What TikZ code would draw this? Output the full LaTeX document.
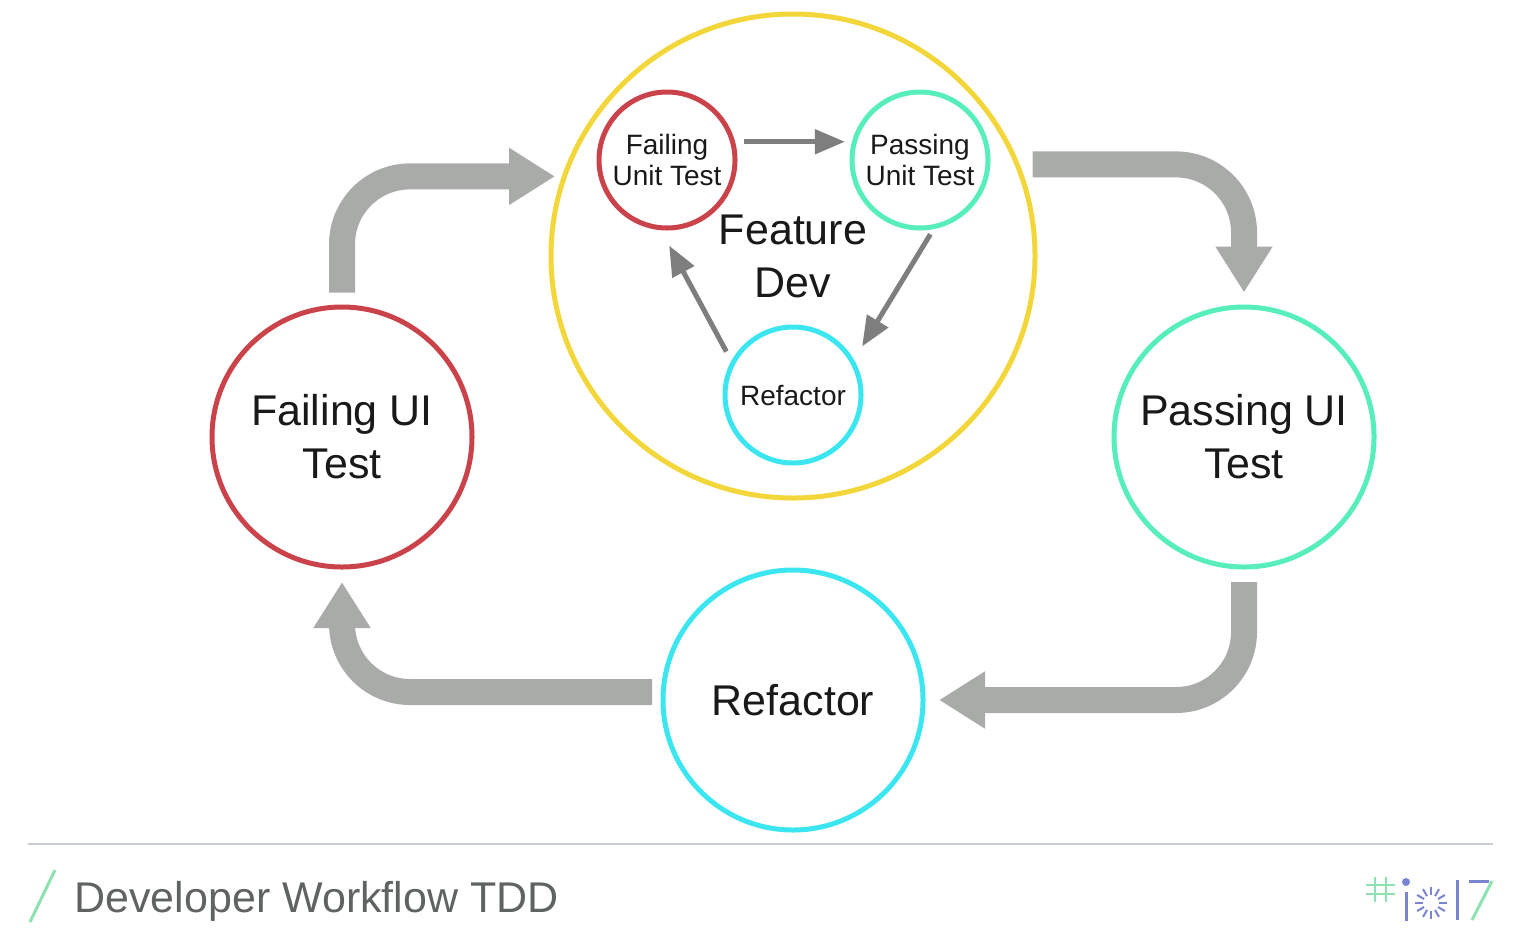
\documentclass[tikz,border=0pt]{standalone}
\usepackage{fontspec}
\setmainfont{Liberation Sans}
\usepackage{tikz}
\usetikzlibrary{arrows.meta,calc}

\definecolor{failred}{RGB}{202,66,74}
\definecolor{passgreen}{RGB}{88,238,188}
\definecolor{refcyan}{RGB}{60,230,240}
\definecolor{devyellow}{RGB}{242,214,58}
\definecolor{flowgray}{RGB}{169,171,169}
\definecolor{stepgray}{RGB}{126,126,126}
\definecolor{titlegray}{RGB}{95,99,97}
\definecolor{rulegray}{RGB}{200,206,212}
\definecolor{logoblue}{RGB}{122,132,208}
\definecolor{logogreen}{RGB}{140,226,176}

\tikzset{
  ring/.style={circle,draw,line width=2.5pt,inner sep=0pt,align=center,text=black!90},
  bigring/.style={ring,minimum size=130pt,font=\fontsize{21.5}{26.5}\selectfont},
  smallring/.style={ring,minimum size=68pt,font=\fontsize{14}{15.5}\selectfont},
  flow/.style={draw=flowgray,line width=13pt,rounded corners=34pt,-{Triangle[width=27pt,length=23pt]}},
  substep/.style={draw=stepgray,line width=2.5pt,-{Triangle[width=12pt,length=15pt]}},
  logostroke/.style={draw=logoblue,line width=1.5pt}
}

\begin{document}
\begin{tikzpicture}[x=0.5pt,y=0.5pt,yscale=-1,xscale=1]
\useasboundingbox (0,0) rectangle (1518,948);

%Shape: Circle (feature dev)
\node[ring,draw=devyellow,minimum size=242pt,font=\fontsize{21.5}{26.5}\selectfont] (fd) at (793,256) {Feature\\Dev};
%Shape: Circle (inner cycle)
\node[smallring,draw=failred] (fut) at (667,160) {Failing\\Unit Test};
\node[smallring,draw=passgreen] (put) at (920,160) {Passing\\Unit Test};
\node[smallring,draw=refcyan] (sref) at (793,395) {Refactor};
%Shape: Circle (outer cycle)
\node[bigring,draw=failred] (fui) at (342,437) {Failing UI\\Test};
\node[bigring,draw=passgreen] (pui) at (1244,437) {Passing UI\\Test};
\node[bigring,draw=refcyan] (bref) at (793,700) {Refactor};

%Straight Lines (inner cycle)
\draw[substep,shorten <=4.5pt,shorten >=3.5pt] (fut.15) -- (put.165);
\draw[substep,shorten <=3pt,shorten >=7.75pt] (put.-79) -- (sref.30);
\draw[substep,shorten <=5.25pt,shorten >=8.75pt] (sref.151) -- (fut.-95);

%Curved arrows (outer cycle)
\draw[flow,shorten <=6pt,shorten >=3.4pt] (fui.north) |- (fd.161);
\draw[flow,shorten <=6.5pt,shorten >=6pt] (fd.22) -| (pui.north);
\draw[flow,shorten <=6.25pt,shorten >=6.75pt] (pui.south) |- (bref.east);
\draw[flow,shorten <=4.25pt,shorten >=6.25pt] ([yshift=-4pt]bref.west) -| (fui.south);

%Footer
\draw[rulegray,line width=1pt] (28,844) -- (1493,844);
\draw[logogreen,line width=1.5pt] (30,922) -- (55,870);
% Text Node
\node[anchor=base west,inner sep=0pt,text=titlegray,font=\fontsize{21.5}{26}\selectfont] (title) at (74,912) {Developer Workflow TDD};

%Logo
\draw[logogreen,line width=0.8pt] (1375,877) -- (1375,902) (1386,877) -- (1386,902) (1366,885) -- (1395,885) (1366,894) -- (1395,894);
\fill[logoblue] (1406,882) circle (2pt);
\draw[logostroke] (1406,892) -- (1406,921);
\foreach \a in {0,30,...,330}
  \draw[logoblue,line width=1pt] ($(1431,903)+(\a:8)$) -- ($(1431,903)+(\a:16)$);
\draw[logostroke] (1457,880) -- (1457,920);
\draw[logostroke] (1469,881) -- (1489,881);
\draw[logogreen,line width=1.5pt] (1492,881) -- (1472,920);

\end{tikzpicture}
\end{document}
